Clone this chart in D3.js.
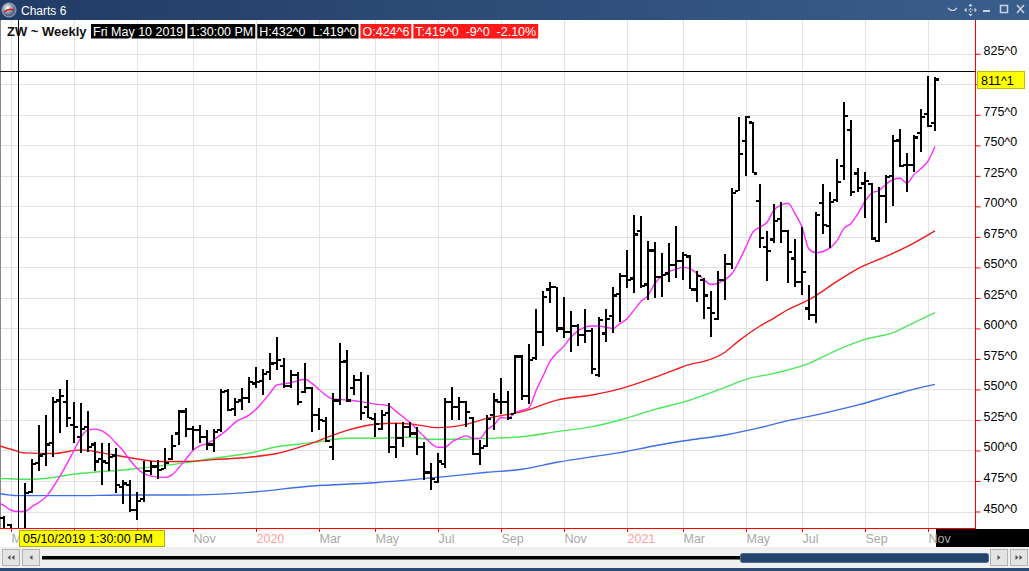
<!DOCTYPE html>
<html>
<head>
<meta charset="utf-8">
<script src="https://cdn.jsdelivr.net/npm/d3@7"></script>
<style>
  body { margin: 0; background: #fff; overflow: hidden; }
  svg { display: block; font-family: "Liberation Sans", Arial, sans-serif; }
</style>
</head>
<body>
<script>
// ZW weekly bars, first bar is the week of Fri Apr 26 2019 (week -1), week 0 = May 3 2019
var firstFriday = new Date(2019, 3, 26);
var lastFriday = new Date(2021, 10, 12);

var opens = [
  445, 439, 424.75, 432, 466, 490, 497, 506, 541, 540,
  521, 511, 519, 505, 493, 490, 496, 470, 472, 451,
  460, 483, 487, 485, 493, 514, 532, 518, 517, 511,
  505, 517, 549, 534, 541, 543, 555, 557, 564.6, 572,
  569, 553, 562, 548, 551, 529, 524, 503, 541, 573,
  551, 558, 536, 526, 518, 531, 503, 510, 519, 514,
  503, 482, 474, 489, 540, 536, 540, 527, 497, 504,
  529, 540, 540, 530, 577, 545, 576, 597, 632, 634,
  600, 597, 602, 595, 598, 562, 596, 610, 628, 643,
  641, 680, 636, 664, 642, 645, 652, 655, 659, 632,
  640, 617, 608, 640, 653, 712.8, 753.8, 768.8, 704.6, 667,
  673, 690, 680, 657.4, 638, 616.4, 611, 703, 684.2, 705,
  733.1, 762.5, 727, 718.8, 718.3, 672, 708.5, 725, 754, 733.9,
  733.9, 760.4, 775.7, 768.6
];
var highs = [
  446, 440, 432, 473, 493, 521, 529, 544, 550, 558,
  540, 539, 532, 507, 506, 506, 502, 476, 476, 466,
  491, 491, 492, 502, 513, 533, 535, 520, 521, 517,
  518, 550, 550.4, 543, 551, 560.5, 568, 567, 579.6, 593.3,
  575.5, 566, 564.6, 571.4, 552.3, 534.6, 527.7, 546.9, 587.8, 582.4,
  561.9, 564.6, 561.9, 530.5, 533.2, 538.7, 522.3, 523.6, 523.6, 519.5,
  507.2, 489.5, 497.7, 542.8, 552.3, 544.1, 540.5, 527.7, 508.6, 529.1,
  547, 559, 549, 578, 578, 587, 616, 631, 638, 634,
  626, 614, 604, 616, 600, 609, 616, 634, 645, 664,
  693, 692, 672, 671, 662, 670, 684, 663, 660, 647,
  641, 631, 647, 661, 715, 773.5, 774, 769.4, 718.3, 680.1,
  701.9, 703.8, 681, 673, 683.4, 635.6, 695.6, 718.3, 711.5, 738.8,
  785.8, 770.7, 731.1, 728.4, 718.8, 716.1, 725.7, 758.5, 763, 743.4,
  758.5, 779.5, 806.8, 805.7
];
var lows = [
  428, 424, 419, 430, 465, 483, 487, 495, 514, 519,
  506, 498, 499, 483, 472, 483, 465, 456, 450, 443,
  458, 480, 477, 485, 492, 504.5, 511, 500, 506, 500,
  499, 515, 532, 528, 533, 538.7, 551, 545.5, 557.8, 566,
  551, 551, 537.3, 546.9, 515.4, 516.8, 507.2, 492.2, 537.3, 540,
  545.5, 525, 526.4, 511.3, 516.8, 497.7, 493.6, 503.1, 511.3, 496.3,
  475.8, 467.6, 473.1, 485.4, 525, 525, 519.5, 496.3, 488.1, 503,
  517, 530, 525, 530, 541, 538, 574, 586, 621, 597,
  592, 581, 586, 588, 563, 560, 589, 596, 605, 633,
  629, 633, 623, 625, 626, 638, 641, 640, 632, 622,
  608, 593, 607, 623, 649, 712.6, 725.1, 727, 665.6, 639.1,
  669.7, 669.7, 637, 634.2, 627.4, 606.9, 604.2, 677.3, 665.6, 703.8,
  721.6, 708.5, 712, 690.2, 672.4, 671, 686, 700.6, 732, 712,
  728.4, 744.8, 765.3, 762
];
var closes = [
  432, 428, 419, 465, 489, 496, 505, 540, 545, 527,
  519, 518, 503, 491, 491, 495, 472, 473, 451, 459,
  483, 487, 484, 490, 504, 532, 518, 517, 511, 505,
  515, 548, 533, 540, 543, 556, 556, 563, 571.4, 574,
  553, 562, 540, 551, 529, 525, 508, 541, 572.8, 541,
  557.8, 531, 527, 522, 529, 503, 510, 519, 514, 503,
  482, 477, 491, 540, 536, 540, 531.8, 497, 502, 526,
  541, 540, 527, 577, 545, 574, 597, 626, 634, 600,
  597, 602, 595, 598, 567, 607, 608, 627, 643, 640,
  677, 635, 664, 642, 644, 652, 655, 660, 632, 643,
  627, 613, 640, 653, 711, 742.9, 773.5, 727, 674.3, 663.7,
  688.3, 680, 662.8, 638.3, 646.5, 611, 692.9, 684.7, 703.8, 720.2,
  774.3, 712, 715, 721, 673.8, 708.5, 724.3, 753.8, 733, 733.9,
  756.5, 773, 765.8, 804.1
];

// moving averages: [week, value]
var maFast = [
  [-2,457],[-1,455],[0,451],[1,450],[2,450],[3,454],[5,462],[7,479],[9,500],[10,511],
  [11,517],[12,517.5],[13,516],[14,512],[15,506],[16,500],[17,492],[18,485.5],[19,481],[20,479],
  [22,478],[23,480],[24,486],[25,493],[26,500],[27,504],[28,505.5],[29,509],[30,513],[31,517.5],
  [32,523],[34,529],[35,533.7],[36,540],[37,547],[38,553.7],[40,555.5],[42,558.3],[43,555],[44,550],
  [46,542.2],[48,541.4],[50,540],[52,538],[54,536.5],[55,532],[57,523],[59,511.5],[61,502.6],[62,502.6],
  [63,507],[64,510],[65,512],[66,510],[67,509.8],[68,517],[69,521],[70,527],[71,526.5],[72,531],
  [73,533],[74,535],[75,549],[76,561],[77,573],[78,580],[79,585.5],[80,593],[81,598],[82,601],
  [83,602],[84,602],[85,601],[86,600],[87,604],[88,608],[89,615],[90,622],[91,627],[92,637],
  [93,643],[94,646.5],[95,648.5],[96,650],[97,649],[98,645],[99,640],[100,636],[101,637],[102,640],
  [103,645],[104,655],[105,667],[106,679],[107,683],[108,687],[109,697],[110,701],[111,702.5],[112,694],
  [113,683],[114,665],[115,662],[116,663],[117,666],[118,672],[119,682],[120,686],[121,694],[122,704],
  [123,711],[124,713],[125,718],[126,722],[127,723],[128,719],[129,726],[130,731],[131,737],[132,749]
];
var maMid = [
  [-2,504.5],[0,501],[2,498],[6,497.5],[10,500.5],[13,498],[17,494],[21,491],[25,491],[29,492.5],
  [34,494.5],[38,497.5],[43,506],[48,516.5],[52,521.5],[55,522.3],[58,521],[61,518.7],[65,521.4],[68,526.3],
  [73,531.8],[78,541.3],[83,545.5],[87,550.5],[92,560],[95,566.5],[97,570.6],[99,573],[102,580.5],[104,590],
  [107,602],[109,608.5],[111,615.5],[114,623.5],[118,638.5],[121,649],[125,659],[128,667],[132,680]
];
var maSlow = [
  [-2,477.2],[3,476.4],[10,481.3],[17,484.6],[25,490],[29,493.6],[34,497.7],[38,503.1],[43,506.4],[48,510],
  [52,510],[57,510.8],[60,509.2],[64,509.2],[68,509.9],[73,511.3],[78,515.4],[83,519.5],[87,525],[92,533.7],
  [97,541.3],[102,551.7],[105,558.3],[109,563.2],[114,571.4],[118,582.3],[122,591],[126,596.5],[129,604.7],[132,612.9]
];
var maLong = [
  [-2,464.9],[1,463],[8,463],[17,463.5],[25,463.5],[34,465.7],[43,470.9],[52,473.6],[62,478.6],[68,482.1],
  [73,484.6],[78,490.3],[83,494.9],[87,498.2],[92,503.9],[97,508.6],[102,512.7],[107,518.7],[111,524.4],[116,530.4],
  [121,537.3],[126,545.5],[130,551.7],[132,554.2]
];

var priceTicks = [450, 475, 500, 525, 550, 575, 600, 625, 650, 675, 700, 725, 750, 775, 800, 825];
var monthNames = ['Jan','Feb','Mar','Apr','May','Jun','Jul','Aug','Sep','Oct','Nov','Dec'];
var cursorBar = 2;          // Fri May 10 2019
var cursorPrice = 811.125;
var cursorTime = '1:30:00 PM';

/* page geometry */
var W = 1029, H = 571;
var plotLeft = 0, plotRight = 975, plotTop = 20, plotBottom = 528;
var dateBox = { x: 19.5, y: 530.5, w: 145, h: 16 };
var gap = '\u00a0\u00a0';

/* weekly dates, a Friday holiday bar is stamped on the Thursday */
var dates = d3.timeFriday.range(firstFriday, d3.timeDay.offset(lastFriday, 1)).map(function(d) {
  return (d.getMonth() === 0 && d.getDate() === 1) ? d3.timeDay.offset(d, -1) : d;
});

var bars = opens.map(function(o, k) {
  return { week: k - 1, date: dates[k], open: o, high: highs[k], low: lows[k], close: closes[k] };
});

var x = d3.scaleLinear().domain([0, 131]).range([11, 928]);
var y = d3.scaleLinear().domain([450, 825]).range([511.5, 53.8]);

function fmt(v) {
  var s = v < 0 ? '-' : '';
  v = Math.abs(v);
  var whole = Math.floor(v + 1e-9);
  var eighths = Math.round((v - whole) * 8);
  if (eighths === 8) { whole += 1; eighths = 0; }
  return s + whole + '^' + eighths;
}

var svg = d3.select('body').append('svg').attr('width', W).attr('height', H);

svg.append('rect').attr('width', W).attr('height', H).attr('fill', '#fff');

var defs = svg.append('defs');
defs.append('clipPath').attr('id', 'plotClip')
  .append('rect').attr('x', plotLeft).attr('y', plotTop)
  .attr('width', plotRight - plotLeft).attr('height', plotBottom - plotTop);

/* month ticks: first bar of every odd month */
var tickWeeks = [];
bars.forEach(function(d, k) {
  if (k === 0) return;
  var m = d.date.getMonth();
  if (m !== bars[k - 1].date.getMonth() && m % 2 === 0) tickWeeks.push(d.week);
});
function tickDate(w) { return bars[w + 1].date; }

/* Grid */
var grid = svg.append('g');
grid.selectAll('line.v').data(tickWeeks).enter().append('line')
  .attr('x1', function(d) { return x(d) + 0.5; })
  .attr('x2', function(d) { return x(d) + 0.5; })
  .attr('y1', plotTop).attr('y2', plotBottom)
  .attr('stroke', '#e2e2e2');
grid.selectAll('line.h').data(priceTicks).enter().append('line')
  .attr('x1', plotLeft).attr('x2', plotRight)
  .attr('y1', function(d) { return Math.round(y(d)) + 0.5; })
  .attr('y2', function(d) { return Math.round(y(d)) + 0.5; })
  .attr('stroke', '#e2e2e2');

/* left border */
svg.append('line').attr('x1', 0.5).attr('x2', 0.5).attr('y1', plotTop).attr('y2', plotBottom)
  .attr('stroke', '#8a8a8a');

/* Header line */
var header = svg.append('g');
header.append('text').attr('x', 7).attr('y', 35.5)
  .attr('font-size', '13px').attr('font-weight', 'bold').attr('fill', '#111')
  .text('ZW ~ Weekly');

var cb = bars[cursorBar], prev = bars[cursorBar - 1];
var chg = cb.close - prev.close;
var headerItems = [
  { text: d3.timeFormat('%a %b %d %Y')(cb.date), fill: '#000' },
  { text: cursorTime, fill: '#000' },
  { text: 'H:' + fmt(cb.high) + gap + 'L:' + fmt(cb.low), fill: '#000' },
  { text: 'O:' + fmt(cb.open), fill: '#ff1a1a' },
  { text: 'T:' + fmt(cb.close) + gap + fmt(chg) + gap + (chg / prev.close * 100).toFixed(2) + '%', fill: '#ff1a1a' }
];
var hx = 91;
headerItems.forEach(function(item) {
  var g = header.append('g');
  var box = g.append('rect').attr('x', hx).attr('y', 24).attr('height', 14.5).attr('fill', item.fill);
  var t = g.append('text').attr('x', hx + 2).attr('y', 35.5)
    .attr('font-size', '12.5px').attr('fill', '#fff').text(item.text);
  var w = t.node().getComputedTextLength() + 4;
  box.attr('width', w);
  hx += w + 2;
});

/* Moving averages */
var plot = svg.append('g').attr('clip-path', 'url(#plotClip)');
var line = d3.line()
  .x(function(d) { return x(d[0]); })
  .y(function(d) { return y(d[1]); })
  .curve(d3.curveMonotoneX);

[[maLong, '#3d6fe6'], [maSlow, '#4be85a'], [maMid, '#f01c1c'], [maFast, '#ff2cff']].forEach(function(s) {
  plot.append('path').datum(s[0]).attr('d', line)
    .attr('fill', 'none').attr('stroke', s[1]).attr('stroke-width', 1.4);
});

/* OHLC bars */
var barG = plot.selectAll('g.bar').data(bars).enter().append('g')
  .attr('shape-rendering', 'crispEdges').attr('fill', '#000');
barG.append('rect')
  .attr('x', function(d) { return x(d.week) - 1; })
  .attr('width', 2.4)
  .attr('y', function(d) { return y(d.high); })
  .attr('height', function(d) { return Math.max(1, y(d.low) - y(d.high)); });
barG.append('rect')
  .attr('x', function(d) { return x(d.week) - 4; })
  .attr('width', 3)
  .attr('y', function(d) { return y(d.open) - 1; })
  .attr('height', 2.2);
barG.append('rect')
  .attr('x', function(d) { return x(d.week) + 1.4; })
  .attr('width', 3)
  .attr('y', function(d) { return y(d.close) - 1; })
  .attr('height', 2.2);

/* Crosshair */
svg.append('line')
  .attr('x1', x(cb.week) + 0.5).attr('x2', x(cb.week) + 0.5)
  .attr('y1', plotTop).attr('y2', plotBottom)
  .attr('stroke', '#000');
svg.append('line')
  .attr('x1', plotLeft).attr('x2', plotRight)
  .attr('y1', Math.round(y(cursorPrice)) + 0.5).attr('y2', Math.round(y(cursorPrice)) + 0.5)
  .attr('stroke', '#000');

/* Bottom axis */
svg.append('rect').attr('x', 936).attr('y', 529).attr('width', W - 936).attr('height', 18).attr('fill', '#000');

var xAxis = d3.axisBottom(x).tickValues(tickWeeks).tickSize(4).tickSizeOuter(0)
  .tickFormat(function(w) {
    var d = tickDate(w);
    return d.getMonth() === 0 ? d.getFullYear() : monthNames[d.getMonth()];
  });
var gx = svg.append('g').attr('transform', 'translate(0,' + plotBottom + ')').call(xAxis);
gx.select('.domain').remove();
gx.selectAll('.tick line').attr('stroke', '#ff0000');
gx.selectAll('.tick text')
  .attr('text-anchor', 'start').attr('x', 0).attr('y', 15).attr('dy', null)
  .attr('font-family', '"Liberation Sans", Arial, sans-serif').attr('font-size', '12.5px')
  .attr('fill', function(w) { return tickDate(w).getMonth() === 0 ? '#ffa0a0' : '#a9a9a9'; });
// labels that fall under the date label are not shown, one that starts left of it is cut
gx.selectAll('.tick text').each(function(w) {
  var left = x(w), right = left + this.getComputedTextLength();
  if (left >= dateBox.x && left <= dateBox.x + dateBox.w) d3.select(this).style('display', 'none');
  else if (left < dateBox.x && right > dateBox.x) {
    d3.select(this).attr('clip-path', 'url(#axisClipLocal' + w + ')');
    defs.append('clipPath').attr('id', 'axisClipLocal' + w)
      .append('rect').attr('x', -left).attr('y', 0).attr('width', dateBox.x).attr('height', 20);
  }
});
svg.append('line').attr('x1', 0).attr('x2', plotRight).attr('y1', plotBottom + 0.5).attr('y2', plotBottom + 0.5)
  .attr('stroke', '#ff0000');

/* Right axis */
var cursorY = Math.round(y(cursorPrice));
var yAxis = d3.axisRight(y).tickValues(priceTicks).tickSize(5).tickSizeOuter(0)
  .tickFormat(function(v) { return fmt(v); });
var gy = svg.append('g').attr('transform', 'translate(' + (plotRight + 0.5) + ',0)').call(yAxis);
gy.select('.domain').remove();
gy.selectAll('.tick line').attr('stroke', '#ff0000');
gy.selectAll('.tick text')
  .attr('x', 8).attr('y', -3.5)
  .attr('font-family', '"Liberation Sans", Arial, sans-serif').attr('font-size', '12.5px')
  .attr('fill', '#000')
  .style('display', function(v) { return Math.abs(y(v) - 3.5 - (cursorY + 8)) < 13 ? 'none' : null; });
svg.append('line').attr('x1', plotRight + 0.5).attr('x2', plotRight + 0.5).attr('y1', plotTop).attr('y2', plotBottom + 1)
  .attr('stroke', '#ff0000');

/* Cursor labels */
svg.append('rect').attr('x', 977.5).attr('y', cursorY + 0.5).attr('width', 47).attr('height', 17)
  .attr('fill', '#ffff00').attr('stroke', '#bdbd00');
svg.append('text').attr('x', 981).attr('y', cursorY + 13.5)
  .attr('font-size', '12.5px').attr('fill', '#000').text(fmt(cursorPrice));

svg.append('rect').attr('x', dateBox.x).attr('y', dateBox.y).attr('width', dateBox.w).attr('height', dateBox.h)
  .attr('fill', '#ffff00').attr('stroke', '#b0b000');
svg.append('text').attr('x', 23).attr('y', 543)
  .attr('font-size', '12.5px').attr('fill', '#000')
  .text(d3.timeFormat('%m/%d/%Y')(cb.date) + ' ' + cursorTime);

/* Scroll bar */
var sb = svg.append('g');
sb.append('rect').attr('x', 0).attr('y', 547).attr('width', W).attr('height', 21).attr('fill', '#efefef');
[[2, 'll'], [22, 'l'], [990, 'r'], [1010, 'rr']].forEach(function(b) {
  sb.append('rect').attr('x', b[0] + 0.5).attr('y', 549.5).attr('width', 17).attr('height', 16)
    .attr('fill', '#e3e3e3').attr('stroke', '#b3b3b3');
  var cx = b[0] + 9, cy = 557.5, dir = b[1].charAt(0) === 'l' ? -1 : 1;
  var offs = b[1].length === 2 ? [-2, 2] : [0];
  offs.forEach(function(o) {
    sb.append('path')
      .attr('d', 'M' + (cx + o - dir * 1.5) + ',' + (cy - 2.5) + 'L' + (cx + o + dir * 1.5) + ',' + cy + 'L' + (cx + o - dir * 1.5) + ',' + (cy + 2.5) + 'Z')
      .attr('fill', '#555');
  });
});
sb.append('rect').attr('x', 42).attr('y', 556).attr('width', 700).attr('height', 3.5).attr('fill', '#000');
sb.append('rect').attr('x', 740.5).attr('y', 553.5).attr('width', 248).attr('height', 9).attr('rx', 2)
  .attr('fill', '#24446d').attr('stroke', '#4d6d95');
svg.append('rect').attr('x', 0).attr('y', 568).attr('width', W).attr('height', 3).attr('fill', '#2a4a76');

/* Title bar */
var grad = defs.append('linearGradient').attr('id', 'titleGrad');
grad.append('stop').attr('offset', '0%').attr('stop-color', '#213c66');
grad.append('stop').attr('offset', '100%').attr('stop-color', '#3a5e8c');
var globe = defs.append('radialGradient').attr('id', 'globeGrad').attr('cx', '40%').attr('cy', '35%');
globe.append('stop').attr('offset', '0%').attr('stop-color', '#ffffff');
globe.append('stop').attr('offset', '100%').attr('stop-color', '#56698a');

var tb = svg.append('g');
tb.append('rect').attr('width', W).attr('height', 20).attr('fill', 'url(#titleGrad)');
tb.append('circle').attr('cx', 9).attr('cy', 10).attr('r', 7).attr('fill', 'url(#globeGrad)').attr('stroke', '#9aa8c0');
tb.append('path').attr('d', 'M4,12 Q9,8 14,10').attr('stroke', '#d62020').attr('stroke-width', 1.6).attr('fill', 'none');
tb.append('text').attr('x', 21).attr('y', 14.5).attr('font-size', '12px').attr('fill', '#fff').text('Charts 6');

var ic = tb.append('g').attr('stroke', '#c9d2df').attr('fill', 'none').attr('stroke-width', 1.2);
ic.append('path').attr('d', 'M948,8 Q952.5,13 957,8');
ic.append('path').attr('d', 'M970.5,5 V15 M965.5,10 H975.5').attr('stroke-dasharray', '1.5,1.5');
ic.append('path').attr('d', 'M969,6 L970.5,4.5 L972,6 M969,14 L970.5,15.5 L972,14 M966.5,8.5 L965,10 L966.5,11.5 M974.5,8.5 L976,10 L974.5,11.5');
ic.append('rect').attr('x', 983).attr('y', 10).attr('width', 7).attr('height', 2).attr('fill', '#c9d2df').attr('stroke', 'none');
ic.append('rect').attr('x', 1000.5).attr('y', 5.5).attr('width', 7).attr('height', 7).attr('stroke-width', 1.5);
ic.append('path').attr('d', 'M1017,5 L1024,13 M1024,5 L1017,13').attr('stroke-width', 1.5);
</script>
</body>
</html>
